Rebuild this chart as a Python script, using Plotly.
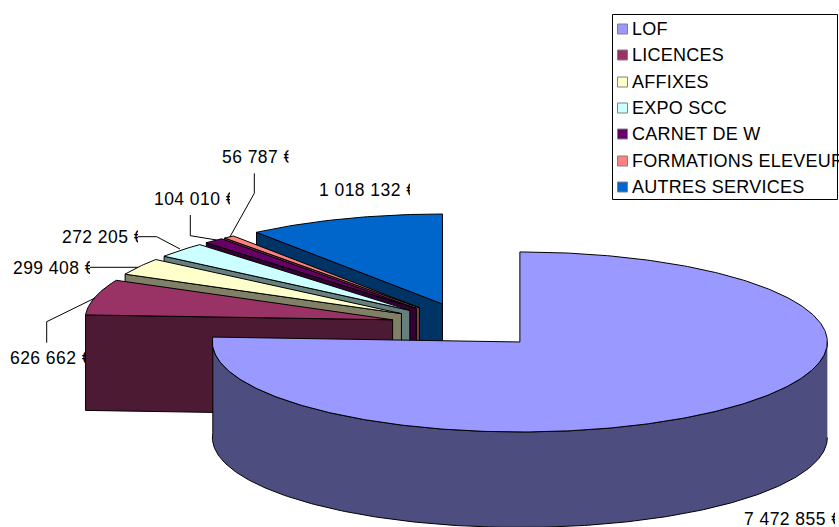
import numpy as np
import plotly.graph_objects as go

# --- data ---
categories = ["LOF", "LICENCES", "AFFIXES", "EXPO SCC", "CARNET DE W", "FORMATIONS ELEVEUR", "AUTRES SERVICES"]
values = [7472855, 626662, 299408, 272205, 104010, 56787, 1018132]
value_labels = ["7 472 855 €", "626 662 €", "299 408 €", "272 205 €", "104 010 €", "56 787 €", "1 018 132 €"]
top_colors = ["#9999FF", "#993366", "#FFFFCC", "#CCFFFF", "#660066", "#FF8080", "#0066CC"]
wall_colors = ["#4D4D80", "#4D1A33", "#808066", "#668080", "#330033", "#804040", "#003366"]

# --- pie geometry (pixel space of the full-bleed axes) ---
W, H = 839, 527
CX, CY = 467.0, 325.5
RX, RY = 307.5, 90.0
DEPTH = 95.5
EXPLODE_X, EXPLODE_Y = 0.25, 0.252

shares = np.array(values, dtype=float) / sum(values)
ends = np.cumsum(shares) * 2 * np.pi
starts = ends - shares * 2 * np.pi


def apex(a0, a1):
    mid = (a0 + a1) / 2
    return CX + EXPLODE_X * RX * np.sin(mid), CY - EXPLODE_Y * RY * np.cos(mid)


def arc(ax, ay, a0, a1):
    t = np.linspace(a0, a1, max(int((a1 - a0) * 80), 6))
    return ax + RX * np.sin(t), ay - RY * np.cos(t)


fig = go.Figure()


def poly(xs, ys, color, name):
    fig.add_trace(go.Scatter(
        x=list(xs), y=list(ys), mode="lines", fill="toself", fillcolor=color,
        line=dict(color="#000000", width=1), name=name, hoverinfo="name", showlegend=False,
    ))


# value labels (drawn first: the slices overlap them, as in the source)
label_x = [744, 10, 13, 62, 154, 222, 319]
label_y = [521, 360, 270, 239, 201, 159, 192]
fig.add_trace(go.Scatter(
    x=label_x, y=label_y, text=value_labels, mode="text", textposition="middle right",
    textfont=dict(family="Liberation Sans, Arial, sans-serif", size=17.5, color="#000000"),
    hoverinfo="skip", showlegend=False,
))

# slices, back to front
for i in [6, 5, 4, 3, 2, 1, 0]:
    a0, a1 = starts[i], ends[i]
    ax, ay = apex(a0, a1)
    ex, ey = arc(ax, ay, a0, a1)
    if i == 0:
        # outer wall of the front slice: visible from 90 degrees to its end
        wx, wy = arc(ax, ay, np.pi / 2, a1)
        poly(np.r_[wx, wx[::-1]], np.r_[wy, wy[::-1] + DEPTH], wall_colors[i], categories[i])
    else:
        # cut face on the starting edge
        sx, sy = ax + RX * np.sin(a0), ay - RY * np.cos(a0)
        poly([ax, sx, sx, ax, ax], [ay, sy, sy + DEPTH, ay + DEPTH, ay], wall_colors[i], categories[i])
    poly(np.r_[ax, ex, ax], np.r_[ay, ey, ay], top_colors[i], categories[i])

# hand-made legend, clipped by the right edge like the source
legend_y = [29, 55, 82, 108, 134, 161, 187]
fig.add_trace(go.Scatter(
    x=[622.5] * 7, y=legend_y, mode="markers",
    marker=dict(symbol="square", size=10, color=top_colors, line=dict(color="#808080", width=1)),
    hoverinfo="skip", showlegend=False,
))
fig.add_trace(go.Scatter(
    x=[632] * 7, y=[y + 1 for y in legend_y], text=categories, mode="text", textposition="middle right",
    textfont=dict(family="Liberation Sans, Arial, sans-serif", size=18, color="#000000"),
    hoverinfo="skip", showlegend=False,
))

shapes = [dict(type="rect", x0=612.5, x1=837.5, y0=14.5, y1=199.5,
               line=dict(color="#000000", width=1), fillcolor="rgba(0,0,0,0)", layer="below")]

# the source cuts its euro signs in half
for x, y in [(835, 521), (90, 270), (138, 239), (230, 201), (288.5, 159), (410, 192)]:
    shapes.append(dict(type="rect", x0=x, x1=x + 10, y0=y - 10, y1=y + 10,
                       line=dict(width=0), fillcolor="#FFFFFF", layer="above"))

# leader lines
leaders = [
    [(46.7, 342.7), (46.7, 321.7), (95, 298)],
    [(90, 267.3), (138, 267.3)],
    [(138, 236.7), (156.7, 236.7), (180, 249)],
    [(190.3, 215), (190.3, 235.7), (216.7, 240)],
    [(254.3, 173.3), (254.3, 193.3), (230, 236.7)],
]
for pts in leaders:
    path = "M " + " L ".join(f"{x},{y}" for x, y in pts)
    shapes.append(dict(type="path", path=path, line=dict(color="#000000", width=1), layer="above"))

fig.update_layout(
    width=W, height=H, margin=dict(l=0, r=0, t=0, b=0),
    paper_bgcolor="#FFFFFF", plot_bgcolor="#FFFFFF", showlegend=False,
    xaxis=dict(range=[0, W], visible=False, fixedrange=True),
    yaxis=dict(range=[H, 0], visible=False, fixedrange=True),
    shapes=shapes,
)
fig.write_html("out.html", config={"displayModeBar": False},
               post_script="document.body.style.margin='0';"
                           "document.querySelectorAll('.textpoint text').forEach(function(t){"
                           "t.style.letterSpacing=(t.style.fontSize==='18px')?'0.25px':'0.45px';});")
